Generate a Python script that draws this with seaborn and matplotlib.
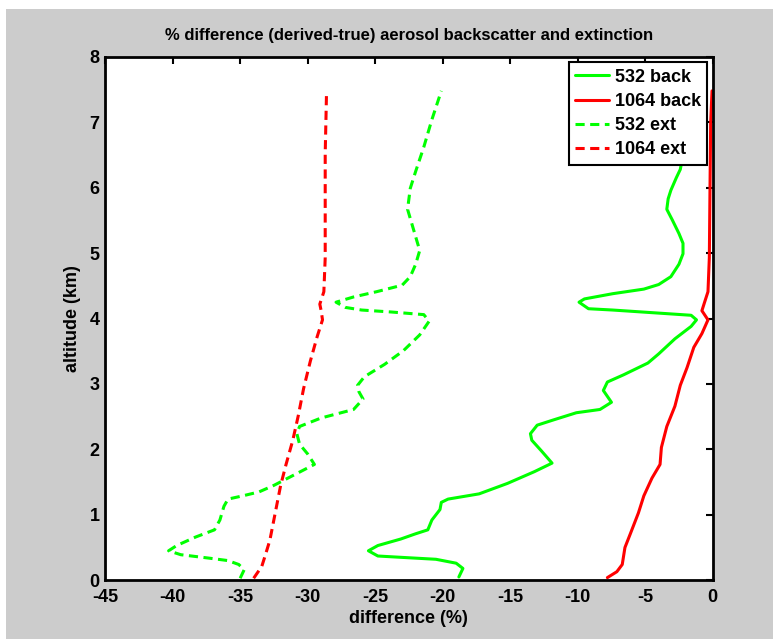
import numpy as np
import pandas as pd
import matplotlib
matplotlib.use("Agg")
import matplotlib.pyplot as plt
from matplotlib.patches import Rectangle
import seaborn as sns

# values (difference in %, altitude in km)
alt_532_back = [0.05, 0.18, 0.26, 0.32, 0.35, 0.37, 0.45, 0.53, 0.63, 0.71, 0.77, 0.92, 1.08, 1.19,
                1.24, 1.32, 1.48, 1.66, 1.79, 1.98, 2.14, 2.24, 2.37, 2.45, 2.56, 2.61, 2.72, 2.90,
                3.03, 3.14, 3.32, 3.46, 3.69, 3.88, 3.98, 4.05, 4.09, 4.13, 4.15, 4.25, 4.30, 4.38,
                4.45, 4.52, 4.64, 4.83, 4.99, 5.15, 5.30, 5.51, 5.67, 5.83, 5.96, 6.15, 6.28, 6.50,
                7.00, 7.48]
diff_532_back = [-18.8, -18.5, -19.0, -20.5, -23.1, -24.8, -25.5, -24.8, -23.1, -22.0, -21.1, -20.8,
                 -20.2, -20.1, -19.6, -17.3, -15.2, -13.2, -11.9, -12.7, -13.4, -13.5, -13.0, -11.8,
                 -10.1, -8.35, -7.5, -8.1, -7.8, -6.6, -4.8, -4.0, -2.8, -1.6, -1.2, -1.6, -4.5,
                 -7.4, -9.2, -9.9, -9.5, -7.4, -5.1, -4.0, -3.1, -2.5, -2.2, -2.2, -2.5, -3.0, -3.4,
                 -3.3, -3.1, -2.7, -2.4, -2.2, -2.0, -1.8]

alt_1064_back = [0.04, 0.13, 0.24, 0.50, 0.71, 1.03, 1.29, 1.56, 1.77, 2.03, 2.35, 2.66, 2.98, 3.25,
                 3.56, 3.77, 3.98, 4.12, 4.25, 4.41, 4.93, 6.00, 7.00, 7.48]
diff_1064_back = [-7.8, -7.1, -6.7, -6.5, -6.1, -5.5, -5.1, -4.5, -3.9, -3.8, -3.4, -2.8, -2.4, -1.9,
                  -1.4, -0.8, -0.35, -0.8, -0.6, -0.35, -0.25, -0.2, -0.15, -0.05]

alt_532_ext = [0.03, 0.16, 0.24, 0.30, 0.34, 0.39, 0.45, 0.53, 0.66, 0.77, 0.92, 1.13, 1.24, 1.29,
               1.35, 1.45, 1.61, 1.77, 1.93, 2.08, 2.24, 2.35, 2.48, 2.61, 2.77, 2.88, 2.98, 3.11,
               3.30, 3.51, 3.75, 3.96, 4.06, 4.10, 4.13, 4.17, 4.25, 4.33, 4.41, 4.51, 4.64, 4.83,
               5.04, 5.25, 5.46, 5.67, 5.99, 6.25, 6.62, 7.04, 7.48]
diff_532_ext = [-35.0, -34.7, -35.1, -35.9, -37.4, -39.4, -40.3, -39.7, -38.3, -36.9, -36.5, -36.2,
                -35.9, -34.8, -33.6, -32.5, -31.0, -29.5, -30.0, -30.6, -30.8, -30.6, -29.0, -26.6,
                -25.9, -26.2, -26.3, -25.8, -24.3, -22.9, -21.7, -21.0, -21.4, -23.8, -26.0, -27.2,
                -27.9, -26.6, -24.9, -23.0, -22.4, -22.0, -21.7, -22.0, -22.3, -22.6, -22.4, -22.0,
                -21.4, -20.8, -20.1]

alt_1064_ext = [0.03, 0.21, 0.34, 0.61, 1.03, 1.45, 1.77, 2.14, 2.51, 2.93, 3.35, 3.72, 3.98, 4.12,
                4.22, 4.41, 4.93, 5.78, 6.52, 7.48]
diff_1064_ext = [-34.0, -33.4, -33.2, -32.8, -32.4, -32.0, -31.6, -31.1, -30.7, -30.3, -29.8, -29.3,
                 -28.9, -29.0, -29.1, -28.8, -28.7, -28.7, -28.7, -28.6]

x_ticks = [-45, -40, -35, -30, -25, -20, -15, -10, -5, 0]
y_ticks = [0, 1, 2, 3, 4, 5, 6, 7, 8]

sns.set_style("white")
plt.rcParams['font.family'] = ['Liberation Sans', 'DejaVu Sans']
plt.rcParams['font.weight'] = 'bold'
plt.rcParams['text.color'] = 'black'
plt.rcParams['axes.labelcolor'] = 'black'
plt.rcParams['xtick.color'] = 'black'
plt.rcParams['ytick.color'] = 'black'
plt.rcParams['axes.unicode_minus'] = False

fig = plt.figure(figsize=(7.73, 6.39), dpi=100, facecolor='white')
# grey figure area (thin white strip on the left and top like the screenshot)
fig.patches.append(Rectangle((6 / 773, 0), 1, 1 - 9 / 639, transform=fig.transFigure,
                             facecolor='#cccccc', edgecolor='none', zorder=-10))
ax = fig.add_axes([0.136, 0.092, 0.786, 0.819])
ax.set_facecolor('white')

series = [
    (diff_532_back, alt_532_back, '532 back', '#00ff00', '-'),
    (diff_1064_back, alt_1064_back, '1064 back', '#ff0000', '-'),
    (diff_532_ext, alt_532_ext, '532 ext', '#00ff00', (0, (3, 1.8))),
    (diff_1064_ext, alt_1064_ext, '1064 ext', '#ff0000', (0, (3, 1.8))),
]
for xs, ys, name, col, ls in series:
    sns.lineplot(x=xs, y=ys, sort=False, estimator=None, color=col, linestyle=ls,
                 linewidth=2.2, label=name, ax=ax)

ax.set_xlim(-45, 0)
ax.set_ylim(0, 8)
ax.set_xticks(x_ticks)
ax.set_yticks(y_ticks)
ax.tick_params(direction='in', top=True, right=True, length=5, width=1.5,
               labelsize=13)
ax.tick_params(axis='x', pad=6)
ax.tick_params(axis='y', pad=4)
for lab in ax.get_xticklabels() + ax.get_yticklabels():
    lab.set_fontweight('bold')
for sp in ax.spines.values():
    sp.set_linewidth(2)
    sp.set_color('black')

ax.set_title("% difference (derived-true) aerosol backscatter and extinction",
             fontsize=12, fontweight='bold', pad=12)
ax.set_xlabel("difference (%)", fontsize=13, fontweight='bold', labelpad=3)
ax.set_ylabel("altitude (km)", fontsize=13, fontweight='bold', labelpad=6)

leg = ax.legend(loc='upper right', fontsize=13, frameon=True, fancybox=False,
                framealpha=1, borderaxespad=0.3, handlelength=1.9,
                labelspacing=0.4, borderpad=0.35, handletextpad=0.3)
leg.get_frame().set_edgecolor('black')
leg.get_frame().set_linewidth(1.5)
for t in leg.get_texts():
    t.set_fontweight('bold')

fig.savefig("out.png", dpi=100, facecolor=fig.get_facecolor())
